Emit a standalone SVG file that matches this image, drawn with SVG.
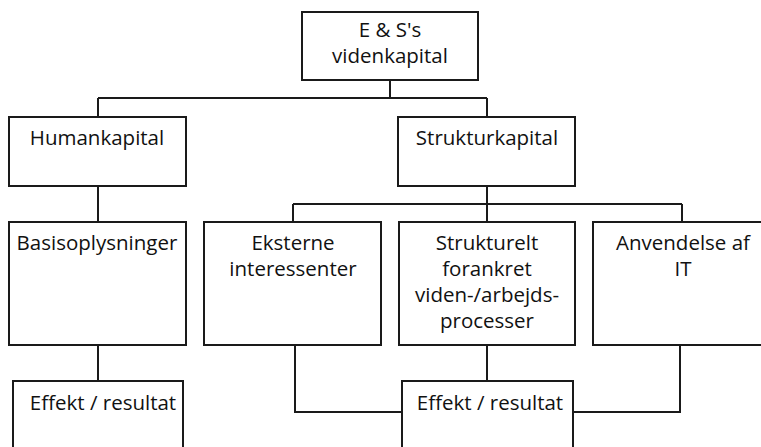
<svg xmlns="http://www.w3.org/2000/svg" width="761" height="447" viewBox="0 0 761 447">
  <style>
    .box { fill: #ffffff; stroke: #1a1a1a; stroke-width: 2; }
    .wire { fill: none; stroke: #1a1a1a; stroke-width: 2; }
    .lbl { font-family: "Open Sans", "Noto Sans", "Liberation Sans", sans-serif; font-size: 20.5px; fill: #111111; text-anchor: middle; }
  </style>
  <rect x="0" y="0" width="761" height="447" fill="#ffffff"/>

  <!-- connectors -->
  <g id="connectors" class="wire">
    <path d="M390,80 V98"/>
    <path d="M98,98 H487"/>
    <path d="M98,98 V117"/>
    <path d="M487,98 V117"/>
    <path d="M98,186 V222"/>
    <path d="M487,186 V204"/>
    <path d="M293,204 H682"/>
    <path d="M293,204 V222"/>
    <path d="M487,204 V222"/>
    <path d="M682,204 V222"/>
    <path d="M98,345 V381"/>
    <path d="M487,345 V381"/>
    <path d="M295,345 V412 H402"/>
    <path d="M573,412 H680 V345"/>
  </g>

  <g id="root">
    <rect class="box" x="302" y="12" width="176" height="68"/>
    <text class="lbl" x="390" y="37">E &amp; S's</text>
    <text class="lbl" x="390" y="63">videnkapital</text>
  </g>

  <g id="humankapital">
    <rect class="box" x="9" y="117" width="177" height="69"/>
    <text class="lbl" x="97" y="145">Humankapital</text>
  </g>

  <g id="strukturkapital">
    <rect class="box" x="398" y="117" width="177" height="69"/>
    <text class="lbl" x="487" y="145">Strukturkapital</text>
  </g>

  <g id="basisoplysninger">
    <rect class="box" x="9" y="222" width="177" height="123"/>
    <text class="lbl" x="97" y="250">Basisoplysninger</text>
  </g>

  <g id="eksterne">
    <rect class="box" x="204" y="222" width="177" height="123"/>
    <text class="lbl" x="293" y="250">Eksterne</text>
    <text class="lbl" x="293" y="276">interessenter</text>
  </g>

  <g id="strukturelt">
    <rect class="box" x="399" y="222" width="176" height="123"/>
    <text class="lbl" x="487" y="250">Strukturelt</text>
    <text class="lbl" x="487" y="276">forankret</text>
    <text class="lbl" x="487" y="302">viden-/arbejds-</text>
    <text class="lbl" x="487" y="328">processer</text>
  </g>

  <g id="anvendelse">
    <rect class="box" x="593" y="222" width="180" height="123"/>
    <text class="lbl" x="683" y="250">Anvendelse af</text>
    <text class="lbl" x="683" y="276">IT</text>
  </g>

  <g id="effekt-human">
    <rect class="box" x="13" y="381" width="170" height="80"/>
    <text class="lbl" x="103" y="410">Effekt / resultat</text>
  </g>

  <g id="effekt-struktur">
    <rect class="box" x="402" y="381" width="171" height="80"/>
    <text class="lbl" x="490" y="410">Effekt / resultat</text>
  </g>
</svg>
